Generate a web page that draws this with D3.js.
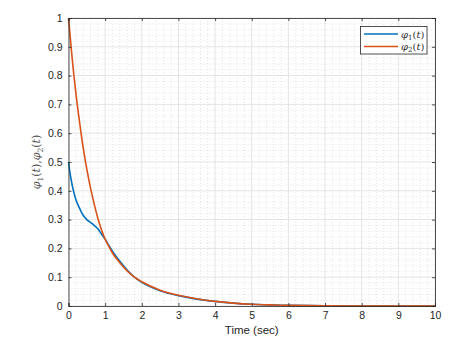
<!DOCTYPE html>
<html>
<head>
<meta charset="utf-8">
<script src="https://cdn.jsdelivr.net/npm/d3@7"></script>
<style>
  body { margin: 0; background: #fff; }
  svg { display: block; }
</style>
</head>
<body>
<div id="chart"></div>
<script>
// values
const timeVals = [0, 0.05, 0.1, 0.2, 0.3, 0.4, 0.5, 0.6, 0.7, 0.8, 0.9, 1.0, 1.1, 1.2, 1.4, 1.6, 1.8, 2.0, 2.5, 3.0, 3.5, 4.0, 4.5, 5.0, 5.5, 6.0, 7.0, 8.0, 9.0, 10.0];
const phi1Vals = [0.5, 0.455, 0.42, 0.37, 0.34, 0.315, 0.30, 0.29, 0.28, 0.268, 0.25, 0.232, 0.21, 0.19, 0.155, 0.125, 0.10, 0.082, 0.053, 0.036, 0.024, 0.016, 0.010, 0.006, 0.004, 0.002, 0.001, 0, 0, 0];
const phi2Vals = [1.0, 0.93, 0.86, 0.74, 0.64, 0.55, 0.475, 0.41, 0.355, 0.305, 0.265, 0.232, 0.207, 0.184, 0.15, 0.122, 0.10, 0.084, 0.055, 0.037, 0.025, 0.016, 0.010, 0.006, 0.004, 0.002, 0.001, 0, 0, 0];
const xTicks = [0, 1, 2, 3, 4, 5, 6, 7, 8, 9, 10];
const yTicks = [0, 0.1, 0.2, 0.3, 0.4, 0.5, 0.6, 0.7, 0.8, 0.9, 1];

const width = 476, height = 342;
const margin = { top: 18, right: 41, bottom: 36, left: 68.5 };

const svg = d3.select("#chart").append("svg")
    .attr("width", width)
    .attr("height", height);

const x = d3.scaleLinear().domain([0, 10]).range([margin.left, width - margin.right]);
const y = d3.scaleLinear().domain([0, 1]).range([height - margin.bottom, margin.top]);

const x0 = x(0), x1 = x(10), y0 = y(0), y1 = y(1);

// minor grid (dotted)
const minorX = d3.range(0, 10.001, 0.2).filter(v => Math.abs(v - Math.round(v)) > 1e-6);
const minorY = d3.range(0, 1.0001, 0.02).filter(v => Math.abs(v * 10 - Math.round(v * 10)) > 1e-6);
const grid = svg.append("g");
grid.selectAll(".mx").data(minorX).join("line")
    .attr("x1", d => x(d)).attr("x2", d => x(d))
    .attr("y1", y1).attr("y2", y0)
    .attr("stroke", "#d4d4d4").attr("stroke-width", 0.6).attr("stroke-dasharray", "1,2");
grid.selectAll(".my").data(minorY).join("line")
    .attr("x1", x0).attr("x2", x1)
    .attr("y1", d => y(d)).attr("y2", d => y(d))
    .attr("stroke", "#d4d4d4").attr("stroke-width", 0.6).attr("stroke-dasharray", "1,2");

// major grid
grid.selectAll(".gx").data(xTicks).join("line")
    .attr("x1", d => x(d)).attr("x2", d => x(d))
    .attr("y1", y1).attr("y2", y0)
    .attr("stroke", "#dedede").attr("stroke-width", 0.8);
grid.selectAll(".gy").data(yTicks).join("line")
    .attr("x1", x0).attr("x2", x1)
    .attr("y1", d => y(d)).attr("y2", d => y(d))
    .attr("stroke", "#dedede").attr("stroke-width", 0.8);

// curves
const line = d3.line().x(d => x(d[0])).y(d => y(d[1])).curve(d3.curveMonotoneX);
const series = [
    { vals: phi1Vals, color: "#0072BD" },
    { vals: phi2Vals, color: "#D95319" }
];
series.forEach(s => {
    svg.append("path")
        .datum(timeVals.map((t, i) => [t, s.vals[i]]))
        .attr("fill", "none")
        .attr("stroke", s.color)
        .attr("stroke-width", 1.6)
        .attr("d", line);
});

// axes with inward ticks
const tickFont = "Liberation Sans, Arial, sans-serif";
svg.append("g")
    .attr("transform", `translate(0,${y0})`)
    .call(d3.axisBottom(x).tickValues(xTicks).tickSize(-3).tickPadding(6).tickFormat(d3.format("d")))
    .call(g => g.selectAll("text").attr("font-family", tickFont).attr("font-size", 10.5).attr("fill", "#262626"));
svg.append("g")
    .attr("transform", `translate(0,${y1})`)
    .call(d3.axisTop(x).tickValues(xTicks).tickSize(-3).tickFormat(""));
svg.append("g")
    .attr("transform", `translate(${x0},0)`)
    .call(d3.axisLeft(y).tickValues(yTicks).tickSize(-3).tickPadding(6).tickFormat(d => d === 0 || d === 1 ? d3.format("d")(d) : d3.format(".1f")(d)))
    .call(g => g.selectAll("text").attr("font-family", tickFont).attr("font-size", 10.5).attr("fill", "#262626"));
svg.append("g")
    .attr("transform", `translate(${x1},0)`)
    .call(d3.axisRight(y).tickValues(yTicks).tickSize(-3).tickFormat(""));
svg.selectAll(".domain").attr("stroke", "#262626").attr("stroke-width", 0.8);
svg.selectAll(".tick line").attr("stroke", "#262626").attr("stroke-width", 0.8);

// x label
svg.append("text")
    .attr("x", (x0 + x1) / 2)
    .attr("y", 334)
    .attr("text-anchor", "middle")
    .attr("font-family", tickFont)
    .attr("font-size", 11.5)
    .attr("fill", "#262626")
    .text("Time (sec)");

// y label (math style)
const yl = svg.append("text")
    .attr("transform", `translate(40,${(y0 + y1) / 2}) rotate(-90)`)
    .attr("text-anchor", "middle")
    .attr("font-family", "DejaVu Serif, serif")
    .attr("font-size", 11)
    .attr("fill", "#555");
yl.append("tspan").attr("font-style", "italic").text("φ");
yl.append("tspan").attr("font-size", 7.5).attr("dy", 2.5).text("1");
yl.append("tspan").attr("dy", -2.5).text("(");
yl.append("tspan").attr("font-style", "italic").text("t");
yl.append("tspan").text("),");
yl.append("tspan").attr("font-style", "italic").text("φ");
yl.append("tspan").attr("font-size", 7.5).attr("dy", 2.5).text("2");
yl.append("tspan").attr("dy", -2.5).text("(");
yl.append("tspan").attr("font-style", "italic").text("t");
yl.append("tspan").text(")");

// legend
const legend = svg.append("g");
legend.append("rect")
    .attr("x", 360.5).attr("y", 26.5)
    .attr("width", 66.5).attr("height", 27.5)
    .attr("fill", "#fff")
    .attr("stroke", "#262626").attr("stroke-width", 0.8);
series.forEach((s, i) => {
    const ly = 34 + i * 12.5;
    legend.append("line")
        .attr("x1", 364).attr("x2", 398)
        .attr("y1", ly).attr("y2", ly)
        .attr("stroke", s.color).attr("stroke-width", 1.6);
    const t = legend.append("text")
        .attr("x", 401).attr("y", ly + 3.5)
        .attr("font-family", "DejaVu Serif, serif")
        .attr("font-size", 10)
        .attr("fill", "#333");
    t.append("tspan").attr("font-style", "italic").text("φ");
    t.append("tspan").attr("font-size", 7).attr("dy", 2).text(String(i + 1));
    t.append("tspan").attr("dy", -2).text("(");
    t.append("tspan").attr("font-style", "italic").text("t");
    t.append("tspan").text(")");
});
</script>
</body>
</html>
